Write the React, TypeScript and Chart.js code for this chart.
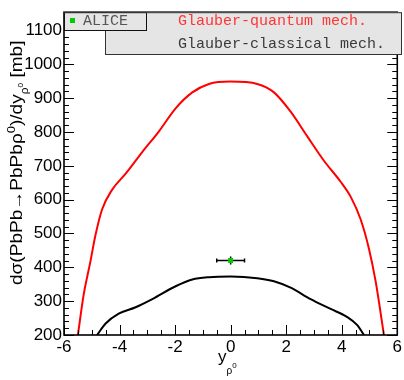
import React, { useEffect, useRef } from "react";
import { Chart, registerables } from "chart.js";

Chart.register(...registerables);

const xTickValues = [-6, -4, -2, 0, 2, 4, 6];
const yTickValues = [200, 300, 400, 500, 600, 700, 800, 900, 1000, 1100];

const quantumX = [-5.5, -5.29, -5.05, -4.87, -4.63, -4.27, -3.78, -3.19, -2.58, -1.98, -1.38, -0.78, 0, 0.96, 1.56, 2.16, 2.76, 3.36, 3.96, 4.32, 4.68, 4.98, 5.22, 5.52];
const quantumY = [200, 320, 417, 494, 571, 629, 677, 740, 802, 870, 917, 942, 949, 942, 917, 860, 787, 715, 653, 609, 542, 455, 359, 200];

const classicalX = [-4.81, -4.5, -4.03, -3.42, -2.82, -1.98, -1.38, -0.78, 0, 0.96, 1.56, 2.16, 2.88, 3.6, 4.2, 4.56, 4.8];
const classicalY = [200, 234, 263, 282, 306, 344, 364, 371, 373, 368, 359, 340, 306, 277, 253, 229, 200];

const aliceX = [0];
const aliceY = [420];
const aliceXErr = [0.5];
const aliceYErr = [12];

const legendAlice = "ALICE";
const legendQuantum = "Glauber-quantum mech.";
const legendClassical = "Glauber-classical mech.";

const SANS = "'Liberation Sans', Arial, sans-serif";
const MONO = "'Liberation Mono', 'Courier New', monospace";

type Piece = { t: string; size: number; dy: number };

function drawPieces(ctx: CanvasRenderingContext2D, pieces: Piece[]) {
  let x = 0;
  for (const p of pieces) {
    ctx.font = `${p.size}px ${SANS}`;
    ctx.fillText(p.t, x, p.dy);
    x += ctx.measureText(p.t).width;
  }
}

const decorPlugin = {
  id: "decor",
  beforeDatasetsDraw(chart: any) {
    const ctx = chart.ctx;
    const xs = chart.scales.x;
    const ys = chart.scales.y;
    ctx.save();
    ctx.strokeStyle = "#000";
    ctx.lineWidth = 1.5;
    for (let i = 0; i < aliceX.length; i++) {
      const cx = xs.getPixelForValue(aliceX[i]);
      const cy = ys.getPixelForValue(aliceY[i]);
      const x1 = xs.getPixelForValue(aliceX[i] - aliceXErr[i]);
      const x2 = xs.getPixelForValue(aliceX[i] + aliceXErr[i]);
      const y1 = ys.getPixelForValue(aliceY[i] - aliceYErr[i]);
      const y2 = ys.getPixelForValue(aliceY[i] + aliceYErr[i]);
      ctx.beginPath();
      ctx.moveTo(x1, cy);
      ctx.lineTo(x2, cy);
      ctx.moveTo(x1, cy - 2);
      ctx.lineTo(x1, cy + 2);
      ctx.moveTo(x2, cy - 2);
      ctx.lineTo(x2, cy + 2);
      ctx.moveTo(cx, y1);
      ctx.lineTo(cx, y2);
      ctx.stroke();
    }
    ctx.restore();
  },
  afterDraw(chart: any) {
    const ctx = chart.ctx;
    const xs = chart.scales.x;
    const ys = chart.scales.y;
    const a = chart.chartArea;
    ctx.save();
    // ticks
    ctx.strokeStyle = "#000";
    ctx.lineWidth = 1;
    ctx.beginPath();
    for (let v = 200; v <= 1154; v += 20) {
      const y = Math.round(ys.getPixelForValue(v)) + 0.5;
      const major = v % 100 === 0;
      const len = major ? 10 : 5;
      ctx.moveTo(a.left, y);
      ctx.lineTo(a.left + len, y);
      ctx.moveTo(a.right, y);
      ctx.lineTo(a.right - len, y);
    }
    for (let v = -6; v <= 6.001; v += 0.5) {
      const x = Math.round(xs.getPixelForValue(v)) + 0.5;
      const major = Math.abs(v % 2) < 1e-6;
      const len = major ? 10 : 5;
      ctx.moveTo(x, a.bottom);
      ctx.lineTo(x, a.bottom - len);
      ctx.moveTo(x, a.top);
      ctx.lineTo(x, a.top + len);
    }
    ctx.stroke();
    // frame
    ctx.lineWidth = 1.6;
    ctx.strokeRect(a.left, a.top, a.right - a.left, a.bottom - a.top);

    // legend box 2
    const b2 = { l: 105, t: a.top, r: 402, b: 55 };
    ctx.fillStyle = "#e5e5e5";
    ctx.fillRect(b2.l, b2.t, b2.r - b2.l, b2.b - b2.t);
    ctx.strokeStyle = "#333";
    ctx.lineWidth = 1;
    ctx.strokeRect(b2.l + 0.5, b2.t + 0.5, b2.r - b2.l - 1, b2.b - b2.t - 1);
    ctx.font = `15px ${MONO}`;
    ctx.textBaseline = "middle";
    ctx.fillStyle = "#ff3535";
    ctx.fillText(legendQuantum, 178, 21);
    ctx.fillStyle = "#3a3a3a";
    ctx.fillText(legendClassical, 178, 44);

    // legend box 1
    const b1 = { l: a.left, t: a.top, r: 147, b: 31 };
    ctx.fillStyle = "#e5e5e5";
    ctx.fillRect(b1.l, b1.t, b1.r - b1.l, b1.b - b1.t);
    ctx.strokeStyle = "#111";
    ctx.strokeRect(b1.l + 0.5, b1.t + 0.5, b1.r - b1.l - 1, b1.b - b1.t - 1);
    ctx.fillStyle = "#00cc00";
    ctx.fillRect(70, 18, 5, 5);
    ctx.fillStyle = "#555";
    ctx.fillText(legendAlice, 83, 21);

    // y title
    ctx.fillStyle = "#000";
    ctx.textBaseline = "alphabetic";
    ctx.save();
    ctx.translate(22, 285);
    ctx.rotate(-Math.PI / 2);
    ctx.scale(1.19, 1);
    drawPieces(ctx, [
      { t: "dσ(PbPb→PbPbρ", size: 16, dy: 0 },
      { t: "0", size: 11, dy: -7 },
      { t: ")/dy", size: 16, dy: 0 },
      { t: "ρ", size: 10, dy: 6 },
      { t: "0", size: 7, dy: 1 },
      { t: " [mb]", size: 16, dy: 0 },
    ]);
    ctx.restore();

    // x title
    ctx.save();
    ctx.translate(218, 362);
    drawPieces(ctx, [
      { t: "y", size: 17, dy: 0 },
      { t: "ρ", size: 10, dy: 12 },
      { t: "0", size: 8, dy: 6 },
    ]);
    ctx.restore();
    ctx.restore();
  },
};

export default function App() {
  const ref = useRef<HTMLCanvasElement | null>(null);
  useEffect(() => {
    if (!ref.current) return;
    const chart = new Chart(ref.current, {
      type: "scatter",
      data: {
        datasets: [
          {
            label: legendQuantum,
            data: quantumX.map((x, i) => ({ x, y: quantumY[i] })),
            showLine: true,
            borderColor: "#ff0000",
            borderWidth: 2,
            pointRadius: 0,
            cubicInterpolationMode: "monotone",
          },
          {
            label: legendClassical,
            data: classicalX.map((x, i) => ({ x, y: classicalY[i] })),
            showLine: true,
            borderColor: "#000000",
            borderWidth: 2,
            pointRadius: 0,
            cubicInterpolationMode: "monotone",
          },
          {
            label: legendAlice,
            data: aliceX.map((x, i) => ({ x, y: aliceY[i] })),
            pointStyle: "rect",
            pointRadius: 3.5,
            backgroundColor: "#00cc00",
            borderColor: "#00cc00",
            borderWidth: 0,
          },
        ],
      },
      options: {
        animation: false,
        responsive: false,
        events: [],
        layout: { padding: { left: 0, top: 6, right: 5, bottom: 0 } },
        plugins: { legend: { display: false }, tooltip: { enabled: false } },
        scales: {
          x: {
            type: "linear",
            min: -6,
            max: 6,
            grid: { display: false, drawTicks: false },
            border: { display: false },
            afterBuildTicks: (s: any) => {
              s.ticks = xTickValues.map((v) => ({ value: v }));
            },
            afterFit: (s: any) => {
              s.height = 45;
            },
            ticks: {
              color: "#000",
              font: { family: SANS, size: 17 },
              padding: 2,
              maxRotation: 0,
              autoSkip: false,
              callback: (v: any) => String(v),
            },
          },
          y: {
            type: "linear",
            min: 200,
            max: 1154,
            grid: { display: false, drawTicks: false },
            border: { display: false },
            afterBuildTicks: (s: any) => {
              s.ticks = yTickValues.map((v) => ({ value: v }));
            },
            afterFit: (s: any) => {
              s.width = 64;
            },
            ticks: {
              color: "#000",
              font: { family: SANS, size: 17 },
              padding: 2,
              autoSkip: false,
              callback: (v: any) => String(v),
            },
          },
        },
      },
      plugins: [decorPlugin],
    } as any);
    return () => chart.destroy();
  }, []);
  return (
    <div style={{ position: "absolute", left: 0, top: 0, width: 404, height: 380, background: "#fff" }}>
      <canvas ref={ref} width={404} height={380} />
    </div>
  );
}
